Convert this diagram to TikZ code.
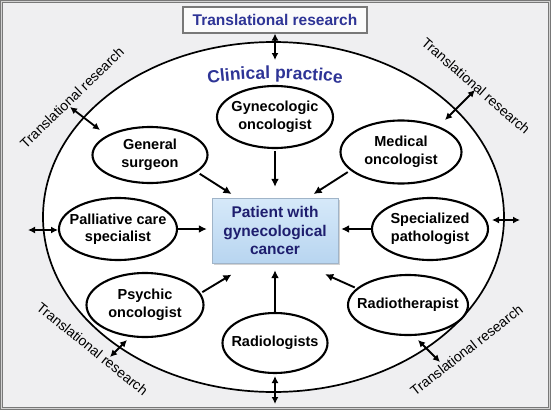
\documentclass[tikz,border=0pt]{standalone}
\usepackage{fontspec}
\setmainfont{Liberation Sans}
\usetikzlibrary{shapes.geometric,arrows.meta,shadows,decorations.text}

\definecolor{bgcol}{RGB}{239,239,241}
\definecolor{framecol}{RGB}{120,120,120}
\definecolor{trblue}{RGB}{46,52,150}
\definecolor{navy}{RGB}{30,30,110}
\definecolor{boxtop}{RGB}{214,233,249}
\definecolor{boxbot}{RGB}{184,213,240}
\definecolor{boxedge}{RGB}{160,180,200}

\tikzset{
  role/.style={ellipse,draw,line width=2.1pt,fill=white,inner sep=0pt},
  roletext/.style={font=\fontsize{14.5}{17.5}\selectfont\bfseries,align=center},
  tolink/.style={line width=1.9pt,-{Latex[length=8pt,width=8pt]}},
  twoway/.style={line width=1.8pt,{Latex[length=7pt,width=7pt]}-{Latex[length=7pt,width=7pt]}},
  trlabel/.style={font=\fontsize{14}{16}\selectfont,inner sep=1pt},
}

\begin{document}
\begin{tikzpicture}[x=1pt,y=-1pt]
\useasboundingbox (0,0) rectangle (551,410);
\fill[bgcol] (0,0) rectangle (551,410);
\draw[framecol,line width=0.9pt,double=gray!35,double distance=1.2pt] (1.6,1.6) rectangle (549.4,408.4);
\node[ellipse,draw,line width=1.7pt,fill=white,minimum width=461pt,minimum height=350pt] (clin) at (273.5,217) {};
\node[draw=framecol,fill=white!97!gray,line width=1.1pt,minimum width=184pt,minimum height=26pt,inner sep=0pt,text=trblue,font=\fontsize{15.5}{18}\selectfont\bfseries] (trtop) at (275,20) {Translational research};
\path[decorate,decoration={text along path,text align=center,text={|\fontsize{17.5}{20}\selectfont\bfseries\color{trblue}|Clinical practice}}] (203,84) .. controls (250,77) and (300,77) .. (347,84);

% patient
\node[draw=boxedge,top color=boxtop,bottom color=boxbot,drop shadow={opacity=0.35,shadow xshift=2pt,shadow yshift=-2pt},minimum width=126pt,minimum height=65pt,inner sep=0pt,align=center,text=navy,font=\fontsize{15.5}{18.5}\selectfont\bfseries] (pt) at (275,230.5) {Patient with\\gynecological\\cancer};

% specialists
\foreach \nm/\x/\y/\w/\h/\txt in {
  gyn/275/117/116/62/{Gynecologic\\oncologist},
  gs/150/155/115/56/{General\\surgeon},
  med/401/152/121/63/{Medical\\oncologist},
  pal/118/229/118/62/{Palliative care\\specialist},
  spec/430/229/116/62/{Specialized\\pathologist},
  psy/145/305/117/64/{Psychic\\oncologist},
  rad/275/343/105/60/{Radiologists},
  rth/408/305/120/60/{Radiotherapist}}{
  \node[role,minimum width=\w pt,minimum height=\h pt,label={[roletext]center:\txt}] (\nm) at (\x,\y) {};
};

% to the patient
\draw[tolink,shorten <=2pt,shorten >=11pt] (gyn.south) -- (pt.north);
\draw[tolink,shorten <=3pt,shorten >=7pt] (gs.-20) -- (pt.139);
\draw[tolink,shorten <=3pt,shorten >=7pt] (med.200) -- (pt.45);
\draw[tolink,shorten >=5pt] (pal.east) -- (pal.east -| pt.west);
\draw[tolink,shorten >=3pt] (spec.west) -- (spec.west -| pt.east);
\draw[tolink,shorten <=2pt,shorten >=22pt] (psy.12) -- (pt.233);
\draw[tolink,shorten >=7pt] (rad.north) -- (pt.south);
\draw[tolink,shorten <=2pt,shorten >=27pt] (rth.162) -- (pt.-52);

% translational research
\node[trlabel,rotate=44] (tr-nw) at (72,97.5) {Translational research};
\node[trlabel,rotate=-41] (tr-ne) at (476,86) {Translational research};
\node[trlabel,rotate=-39] (tr-sw) at (92.5,349) {Translational research};
\node[trlabel,rotate=38] (tr-se) at (466.5,350) {Translational research};
\coordinate (top-b) at (275,60);
\draw[twoway] (trtop.south) -- (top-b);
\foreach \nm/\ax/\ay/\bx/\by in {nw/70/107/100/130, ne/475/90/445/120, w/28/230/58/230, e/492/220/520/220, sw/110/357/127/340, se/418/340/440/362, bot/275/376/275/404}{
  \coordinate (\nm-a) at (\ax,\ay);
  \coordinate (\nm-b) at (\bx,\by);
  \draw[twoway] (\nm-a) -- (\nm-b);
};
\end{tikzpicture}
\end{document}
